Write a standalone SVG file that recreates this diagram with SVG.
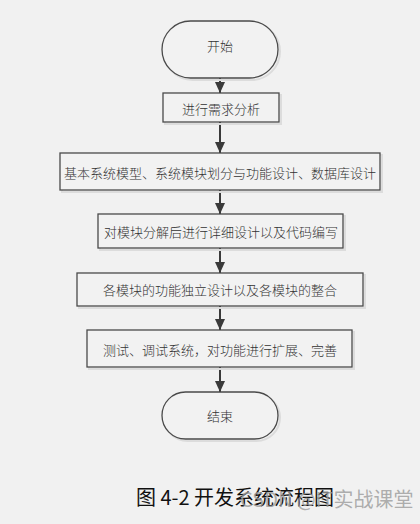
<svg xmlns="http://www.w3.org/2000/svg" width="420" height="524" viewBox="0 0 420 524">
<style>
.bg{fill:#f1f1f1}
.box{fill:#f2f2f2;stroke:#4a4a4a;stroke-width:1.3}
.shadow{fill:none;stroke:#dcdcdc;stroke-width:2}
.t{font-family:"Noto Sans CJK SC",sans-serif;font-size:13px;font-weight:300;fill:#333;text-anchor:middle;dominant-baseline:central}
.conn{stroke:#3a3a3a;stroke-width:2;fill:none}
.cap{font-family:"Noto Sans CJK SC",sans-serif;font-size:20px;fill:#111}
.wm{font-family:"Noto Sans CJK SC",sans-serif;font-size:20px;fill:#9a9a9a;fill-opacity:0.8}
</style>
<defs>
<marker id="ah" markerWidth="10" markerHeight="12" refX="11" refY="5" orient="auto" markerUnits="userSpaceOnUse">
<path d="M0,0 L11,5 L0,10 Z" fill="#3a3a3a"/>
</marker>
</defs>
<rect class="bg" x="0" y="0" width="420" height="524"/>
<g id="connectors">
<line class="conn" x1="220" y1="78" x2="220" y2="93" marker-end="url(#ah)"/>
<line class="conn" x1="220" y1="122" x2="220" y2="153" marker-end="url(#ah)"/>
<line class="conn" x1="220" y1="190" x2="220" y2="214" marker-end="url(#ah)"/>
<line class="conn" x1="220" y1="248" x2="220" y2="273" marker-end="url(#ah)"/>
<line class="conn" x1="220" y1="306" x2="220" y2="330" marker-end="url(#ah)"/>
<line class="conn" x1="220" y1="367" x2="220" y2="392" marker-end="url(#ah)"/>
</g>
<g id="start">
<rect class="shadow" x="164" y="23" width="116" height="57" rx="28.5"/>
<rect class="box" x="162" y="21" width="116" height="57" rx="28.5"/>
<text class="t" x="220" y="45">开始</text>
</g>
<g id="n1">
<rect class="shadow" x="165" y="95" width="116" height="29"/>
<rect class="box" x="163" y="93" width="116" height="29"/>
<text class="t" x="221" y="108">进行需求分析</text>
</g>
<g id="n2">
<rect class="shadow" x="62" y="155" width="320" height="37"/>
<rect class="box" x="60" y="153" width="320" height="37"/>
<text class="t" x="220" y="172">基本系统模型、系统模块划分与功能设计、数据库设计</text>
</g>
<g id="n3">
<rect class="shadow" x="100" y="216" width="245" height="34"/>
<rect class="box" x="98" y="214" width="245" height="34"/>
<text class="t" x="221" y="231">对模块分解后进行详细设计以及代码编写</text>
</g>
<g id="n4">
<rect class="shadow" x="79" y="275" width="286" height="33"/>
<rect class="box" x="77" y="273" width="286" height="33"/>
<text class="t" x="220" y="289">各模块的功能独立设计以及各模块的整合</text>
</g>
<g id="n5">
<rect class="shadow" x="89" y="332" width="265" height="37"/>
<rect class="box" x="87" y="330" width="265" height="37"/>
<text class="t" x="220" y="349">测试、调试系统，对功能进行扩展、完善</text>
</g>
<g id="end">
<rect class="shadow" x="164" y="394" width="116" height="47" rx="23.5"/>
<rect class="box" x="162" y="392" width="116" height="47" rx="23.5"/>
<text class="t" x="220" y="415">结束</text>
</g>
<text class="cap" x="136" y="505">图 4-2 开发系统流程图</text>
<text class="wm" x="240" y="507">CSDN @IT实战课堂</text>
</svg>
